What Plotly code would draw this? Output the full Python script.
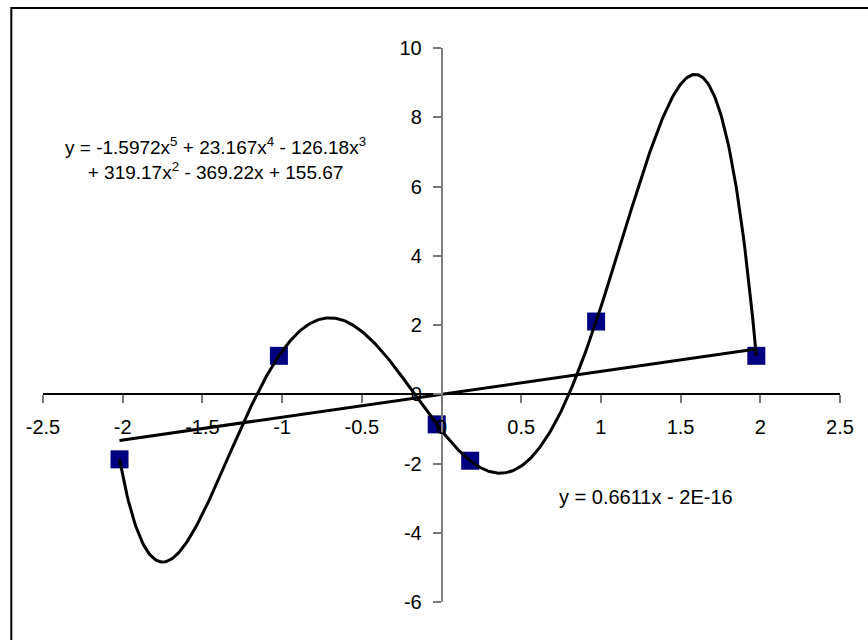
import numpy as np
import plotly.graph_objects as go

# Scatter data
x_pts = [-2.02, -1.02, -0.03, 0.18, 0.97, 1.975]
y_pts = [-1.88, 1.11, -0.87, -1.92, 2.10, 1.11]

# Linear trendline coefficients (as printed on the chart)
lin_slope = 0.6611
lin_intercept = -2e-16

# Axis settings
x_range = [-2.5, 2.5]
y_range = [-6, 10]
x_ticks = [-2.5, -2, -1.5, -1, -0.5, 0, 0.5, 1, 1.5, 2, 2.5]
y_ticks = [-6, -4, -2, 0, 2, 4, 6, 8, 10]

poly_label = ("y = -1.5972x<sup>5</sup> + 23.167x<sup>4</sup> - 126.18x<sup>3</sup><br>"
              "+ 319.17x<sup>2</sup> - 369.22x + 155.67")
lin_label = "y = 0.6611x - 2E-16"

FONT = "Liberation Sans, Arial, sans-serif"

# 5th-order polynomial trendline through the points
coef = np.polyfit(x_pts, y_pts, 5)
xs = np.linspace(min(x_pts), max(x_pts), 500)
ys = np.polyval(coef, xs)

# Linear trendline over the data span
xl = np.array([min(x_pts), max(x_pts)])
yl = lin_slope * xl + lin_intercept

fig = go.Figure()
fig.add_trace(go.Scatter(x=x_pts, y=y_pts, mode="markers",
                         marker=dict(symbol="square", size=18, color="#000080",
                                     line=dict(width=0)),
                         showlegend=False, hoverinfo="skip"))
fig.add_trace(go.Scatter(x=xs, y=ys, mode="lines",
                         line=dict(color="black", width=3),
                         showlegend=False, hoverinfo="skip"))
fig.add_trace(go.Scatter(x=xl, y=yl, mode="lines",
                         line=dict(color="black", width=3),
                         showlegend=False, hoverinfo="skip"))

# plot area in pixels: x 42.7..840, y 48..602
L, R, T, B = 42.7, 840.0, 48.0, 602.0
W, H = 868, 640

x_pos = (0 - y_range[0]) / (y_range[1] - y_range[0])
y_pos = (0 - x_range[0]) / (x_range[1] - x_range[0])

fig.update_layout(
    width=W, height=H,
    margin=dict(l=L, r=W - R, t=T, b=H - B, pad=0),
    paper_bgcolor="white", plot_bgcolor="white",
    font=dict(family=FONT, size=20, color="black"),
    xaxis=dict(range=x_range, tickmode="array", tickvals=x_ticks,
               ticktext=[f"{v:g}" for v in x_ticks],
               showgrid=False, zeroline=False, showline=True,
               linecolor="black", linewidth=2,
               ticks="outside", ticklen=8, tickwidth=1.5, tickcolor="#777",
               anchor="free", position=x_pos, ticklabelstandoff=7,
               tickfont=dict(family=FONT, size=20, color="black")),
    yaxis=dict(range=y_range, tickmode="array", tickvals=y_ticks,
               ticktext=[f"{v:g}" for v in y_ticks],
               showgrid=False, zeroline=False, showline=True,
               linecolor="#808080", linewidth=1.5,
               ticks="outside", ticklen=8, tickwidth=1.5, tickcolor="#777",
               anchor="free", position=y_pos, ticklabelstandoff=7,
               tickfont=dict(family=FONT, size=20, color="black")),
)

# chart border (extends past right and bottom edges)
def px_to_paper_x(px):
    return (px - L) / (R - L)

def px_to_paper_y(py):
    return (B - py) / (B - T)

fig.add_shape(type="rect", xref="paper", yref="paper",
              x0=px_to_paper_x(11), x1=px_to_paper_x(900),
              y0=px_to_paper_y(680), y1=px_to_paper_y(8),
              line=dict(color="black", width=2), fillcolor="rgba(0,0,0,0)",
              layer="below")

fig.add_annotation(x=-1.417, y=6.815, xref="x", yref="y", text=poly_label,
                   showarrow=False, align="center",
                   font=dict(family=FONT, size=19, color="black"))
fig.add_annotation(x=1.28, y=-2.97, xref="x", yref="y", text=lin_label,
                   showarrow=False, align="center",
                   font=dict(family=FONT, size=20, color="black"))

fig.write_html("out.html")
